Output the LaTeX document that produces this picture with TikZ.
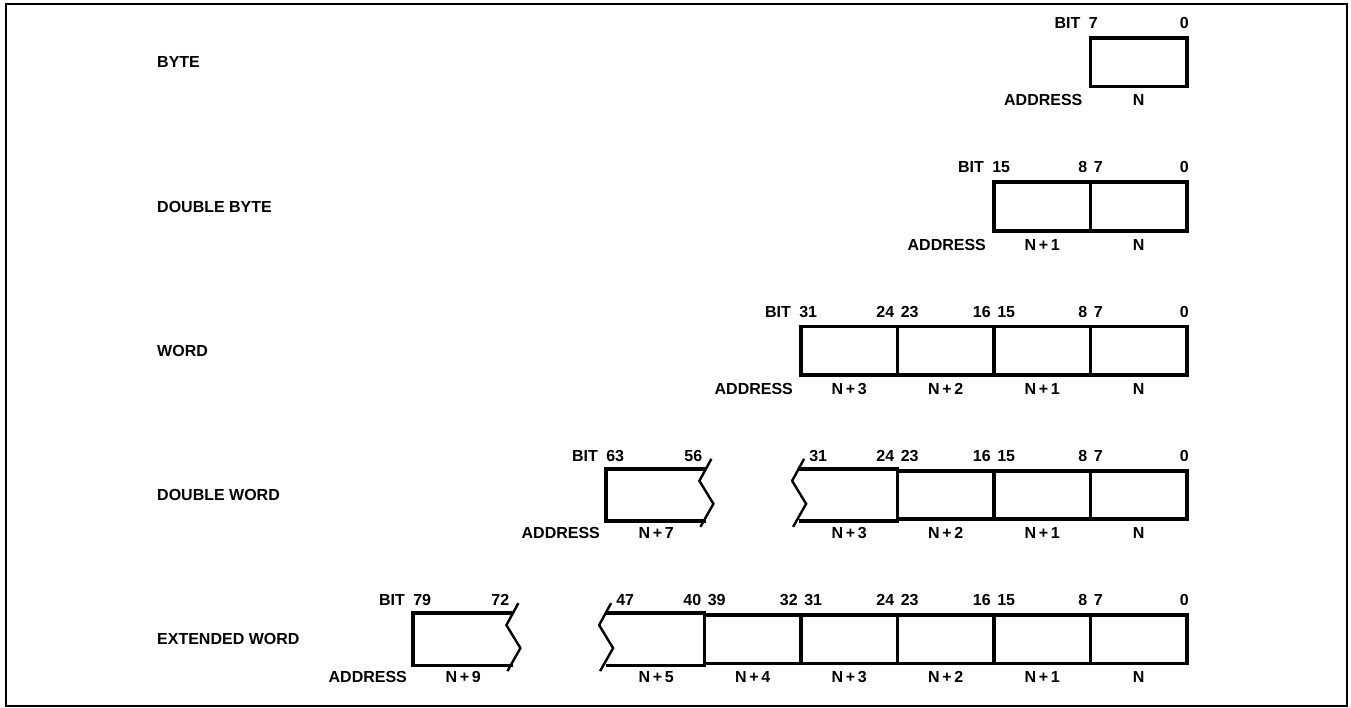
\documentclass[tikz,border=0pt]{standalone}
\usepackage{fontspec}
\setmainfont{Liberation Sans}
\usetikzlibrary{positioning,calc}

% one byte is one cell, the rows are stacked \rowgap apart
\newcommand{\cellw}{96.5}
\newcommand{\cellh}{48.5}
\newcommand{\rgt}{1187}
\newcommand{\rowgap}{144.25}

\tikzset{
  lbl/.style={font=\fontsize{16}{19}\selectfont\bfseries,inner sep=0pt},
  box/.style={line width=3.8pt},
  cell/.style={rectangle,draw,box,inner sep=0pt,
    minimum width=\cellw pt,minimum height=\cellh pt},
  open/.style={cell,draw=none},
  tear/.style={line width=2.4pt},
  frame/.style={line width=2pt}
}

% bit numbers above and address below cell #2 of row #1
% #3 / #4 pull the high / low bit number in from the cell edge
\newcommand{\cellnums}[4]{%
  \pgfmathtruncatemacro{\hibit}{8*#2+7}%
  \pgfmathtruncatemacro{\lobit}{8*#2}%
  \node[lbl,anchor=west] (hi#1-#2) at ($(c#1-#2.north west)+(#3,-13)$) {\hibit};
  \node[lbl,anchor=east] (lo#1-#2) at ($(c#1-#2.north east)+(-#4,-13)$) {\lobit};
  \node[lbl] (n#1-#2) at ($(c#1-#2.south)+(0,12)$) {N\ifnum#2>0\,+\,#2\fi};
}

% torn edge through the top corner #1 of a cell
\newcommand{\tear}[1]{%
  \draw[tear] ($(#1)+(5,-10)$) -- ($(#1)+(-7,12)$) -- ($(#1)+(7,35)$) -- ($(#1)+(-6,58)$);
}

\begin{document}
\begin{tikzpicture}[x=1pt,y=-1pt]
\useasboundingbox (0,0) rectangle (1351,708);
\draw[frame] (6,4) rectangle (1347,706);

% rows made of whole cells only
\foreach \r/\n/\name in {0/1/BYTE,1/2/DOUBLE BYTE,2/4/WORD}{
  \pgfmathsetmacro{\ytop}{38+\rowgap*\r}
  \pgfmathtruncatemacro{\last}{\n-1}
  \foreach \i in {0,...,\last}
    \node[cell] (c\r-\i) at ({\rgt-(\i+0.5)*\cellw},{\ytop+\cellh/2}) {};
  \foreach \i in {0,...,\last}{
    \pgfmathtruncatemacro{\hipad}{ifthenelse(\i==\last,0,5)}
    \pgfmathtruncatemacro{\lopad}{ifthenelse(\i==0,0,5)}
    \cellnums{\r}{\i}{\hipad}{\lopad}}
  \node[lbl,anchor=west] (row\r) at (157,{\ytop+\cellh/2}) {\name};
  \node[lbl,anchor=east] (bit\r) at ($(c\r-\last.north west)+(-8,-13)$) {BIT};
  \node[lbl,anchor=east] (addr\r) at ($(c\r-\last.south west)+(-6,12)$) {ADDRESS};
}

% double word: bytes 0-3, gap, byte 7
\pgfmathsetmacro{\ytop}{38+3*\rowgap}
\foreach \i in {0,...,2}
  \node[cell] (c3-\i) at ({\rgt-(\i+0.5)*\cellw},{\ytop+\cellh/2}) {};
\node[open] (c3-3) at ({\rgt-3.5*\cellw},{\ytop+\cellh/2}) {};
\node[open] (c3-7) at ({\rgt-5.5*\cellw},{\ytop+\cellh/2}) {};
\draw[box] (c3-3.north west) -- (c3-3.north east) (c3-3.south west) -- (c3-3.south east);
\draw[box] (c3-7.north east) -- (c3-7.north west) -- (c3-7.south west) -- (c3-7.south east);
\tear{c3-3.north west}
\tear{c3-7.north east}
\cellnums{3}{0}{5}{0}
\cellnums{3}{1}{5}{5}
\cellnums{3}{2}{5}{5}
\cellnums{3}{3}{10}{5}
\cellnums{3}{7}{0}{4}
\node[lbl,anchor=west] (row3) at (157,{\ytop+\cellh/2}) {DOUBLE WORD};
\node[lbl,anchor=east] (bit3) at ($(c3-7.north west)+(-8,-13)$) {BIT};
\node[lbl,anchor=east] (addr3) at ($(c3-7.south west)+(-6,12)$) {ADDRESS};

% extended word: bytes 0-5, gap, byte 9
\pgfmathsetmacro{\ytop}{38+4*\rowgap}
\foreach \i in {0,...,4}
  \node[cell] (c4-\i) at ({\rgt-(\i+0.5)*\cellw},{\ytop+\cellh/2}) {};
\node[open] (c4-5) at ({\rgt-5.5*\cellw},{\ytop+\cellh/2}) {};
\node[open] (c4-9) at ({\rgt-7.5*\cellw},{\ytop+\cellh/2}) {};
\draw[box] (c4-5.north west) -- (c4-5.north east) (c4-5.south west) -- (c4-5.south east);
\draw[box] (c4-9.north east) -- (c4-9.north west) -- (c4-9.south west) -- (c4-9.south east);
\tear{c4-5.north west}
\tear{c4-9.north east}
\cellnums{4}{0}{5}{0}
\foreach \i in {1,...,4}{\cellnums{4}{\i}{5}{5}}
\cellnums{4}{5}{10}{5}
\cellnums{4}{9}{0}{4}
\node[lbl,anchor=west] (row4) at (157,{\ytop+\cellh/2}) {EXTENDED WORD};
\node[lbl,anchor=east] (bit4) at ($(c4-9.north west)+(-8,-13)$) {BIT};
\node[lbl,anchor=east] (addr4) at ($(c4-9.south west)+(-6,12)$) {ADDRESS};
\end{tikzpicture}
\end{document}
